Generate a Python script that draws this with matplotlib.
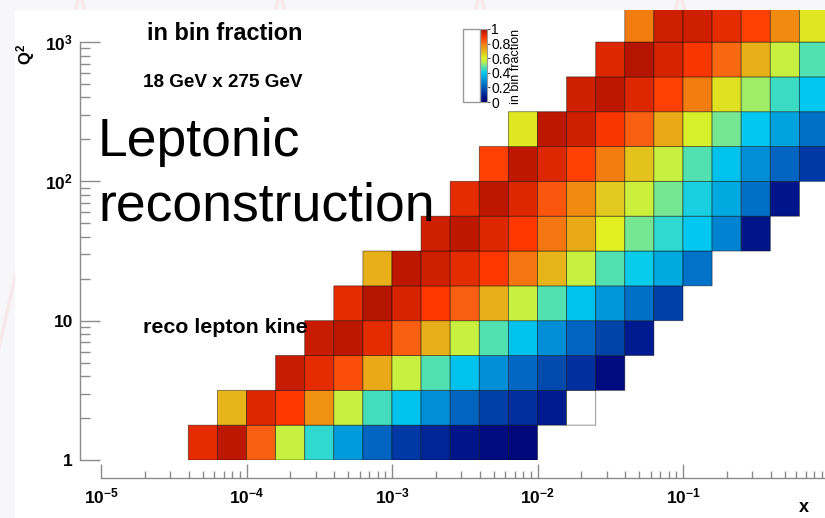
import numpy as np
import matplotlib
matplotlib.use('Agg')
import matplotlib.pyplot as plt
from matplotlib.colors import LinearSegmentedColormap, Normalize
from matplotlib.cm import ScalarMappable
from matplotlib.patches import Rectangle
from matplotlib.lines import Line2D
from matplotlib.ticker import FixedLocator, FixedFormatter, LogLocator, NullFormatter

plt.rcParams['font.family'] = ['Liberation Sans', 'DejaVu Sans']
plt.rcParams['mathtext.fontset'] = 'custom'
plt.rcParams['mathtext.rm'] = 'Liberation Sans:bold'
plt.rcParams['mathtext.it'] = 'Liberation Sans:italic:bold'
plt.rcParams['mathtext.bf'] = 'Liberation Sans:bold'

# binning: 5 bins per decade in x, 4 per decade in Q2
x_edges = np.logspace(-5, 0, 26)
q2_edges = np.logspace(0, 3.25, 14)

# first filled x bin of each Q2 row, and the in-bin fraction of the filled bins
row_first_bin = [3, 4, 6, 7, 8, 9, 11, 12, 13, 14, 16, 17, 18]
frac_q2_rows = [
    [0.92, 0.97, 0.83, 0.56, 0.44, 0.32, 0.22, 0.14, 0.10, 0.07, 0.05, 0.03],
    [0.70, 0.93, 0.88, 0.76, 0.56, 0.46, 0.39, 0.30, 0.22, 0.15, 0.12, 0.08, 0.0],
    [0.96, 0.92, 0.85, 0.72, 0.56, 0.47, 0.39, 0.30, 0.23, 0.17, 0.12, 0.05],
    [0.96, 0.97, 0.92, 0.83, 0.71, 0.56, 0.47, 0.39, 0.30, 0.22, 0.16, 0.08],
    [0.92, 0.98, 0.94, 0.88, 0.83, 0.71, 0.56, 0.47, 0.39, 0.31, 0.24, 0.15],
    [0.71, 0.97, 0.95, 0.92, 0.88, 0.80, 0.70, 0.56, 0.47, 0.41, 0.34, 0.25],
    [0.95, 0.97, 0.93, 0.88, 0.80, 0.72, 0.62, 0.50, 0.44, 0.40, 0.28, 0.07],
    [0.92, 0.97, 0.93, 0.84, 0.77, 0.67, 0.57, 0.50, 0.42, 0.34, 0.24, 0.07],
    [0.87, 0.97, 0.93, 0.87, 0.79, 0.68, 0.56, 0.47, 0.39, 0.30, 0.22, 0.14],
    [0.63, 0.97, 0.95, 0.89, 0.83, 0.72, 0.60, 0.50, 0.40, 0.33, 0.24],
    [0.95, 0.97, 0.93, 0.87, 0.79, 0.64, 0.53, 0.45, 0.40],
    [0.93, 0.98, 0.94, 0.89, 0.82, 0.71, 0.56, 0.47],
    [0.79, 0.95, 0.95, 0.92, 0.87, 0.77, 0.63],
]

x_ticks = [1e-5, 1e-4, 1e-3, 1e-2, 1e-1, 1]
x_ticklabels = ['10$^{-5}$', '10$^{-4}$', '10$^{-3}$', '10$^{-2}$', '10$^{-1}$', '']
y_ticks = [1, 10, 100, 1000]
y_ticklabels = ['1', '10', '10$^{2}$', '10$^{3}$']
cbar_ticks = [0, 0.2, 0.4, 0.6, 0.8, 1]
cbar_ticklabels = ['0', '0.2', '0.4', '0.6', '0.8', '1']

Z = np.full((len(q2_edges) - 1, len(x_edges) - 1), np.nan)
for j, (i0, vals) in enumerate(zip(row_first_bin, frac_q2_rows)):
    Z[j, i0:i0 + len(vals)] = vals

palette = [(0.00, '#000070'), (0.05, '#000c80'), (0.08, '#001c90'), (0.12, '#0030a0'),
           (0.15, '#0040a8'), (0.22, '#0064c0'), (0.30, '#0090d8'), (0.34, '#00a8e0'),
           (0.40, '#00c8f0'), (0.44, '#30d8d0'), (0.47, '#50e0b0'), (0.50, '#78e890'),
           (0.56, '#c8f040'), (0.62, '#e0f020'), (0.66, '#e0d020'), (0.71, '#e8b018'),
           (0.77, '#f08c10'), (0.83, '#f86010'), (0.88, '#ff3800'), (0.93, '#e02800'),
           (0.97, '#c01800'), (1.00, '#a01000')]
cmap = LinearSegmentedColormap.from_list('rootish', palette)
cmap.set_under('white')

W, H = 825, 518
fig = plt.figure(figsize=(8.25, 5.18), dpi=100)
fig.patch.set_facecolor('#f7f7f9')

def fx(px):
    return px / W

def fy(py):
    return 1 - py / H

# faint slide background pattern
for x0 in [-40, 160, 360, 560, 760]:
    fig.add_artist(Line2D([fx(x0), fx(x0 + 120)], [fy(520), fy(-10)], color='#f7e8ea',
                          lw=2.5, zorder=-3))
    fig.add_artist(Line2D([fx(x0 + 120), fx(x0 + 240)], [fy(-10), fy(520)], color='#f7e8ea',
                          lw=2.5, zorder=-3))
fig.add_artist(Rectangle((fx(15), 0), 1, fy(10), transform=fig.transFigure,
                         facecolor='white', edgecolor='none', zorder=-2))

ax = fig.add_axes([fx(101), fy(460), fx(828.5) - fx(101), fy(10) - fy(460)])
ax.patch.set_alpha(0)
ax.set_xscale('log')
ax.set_yscale('log')
ax.pcolor(x_edges, q2_edges, np.ma.masked_invalid(Z), cmap=cmap,
          norm=Normalize(vmin=1e-4, vmax=1), edgecolors=(0, 0, 0, 0.5), linewidth=0.6)
ax.set_xlim(1e-5, 1)
ax.set_ylim(1, 10 ** 3.23)

for s in ['top', 'right']:
    ax.spines[s].set_visible(False)
ax.spines['left'].set_position(('outward', 21 * 0.72))
ax.spines['bottom'].set_position(('outward', 18 * 0.72))
ax.spines['left'].set_bounds(1, 1000)
for s in ['left', 'bottom']:
    ax.spines[s].set_color('#8c8c8c')
    ax.spines[s].set_linewidth(1.0)

ax.xaxis.set_major_locator(FixedLocator(x_ticks))
ax.xaxis.set_major_formatter(FixedFormatter(x_ticklabels))
ax.xaxis.set_minor_locator(LogLocator(base=10, subs=np.arange(2, 10)))
ax.xaxis.set_minor_formatter(NullFormatter())
ax.yaxis.set_major_locator(FixedLocator(y_ticks))
ax.yaxis.set_major_formatter(FixedFormatter(y_ticklabels))
ax.yaxis.set_minor_locator(LogLocator(base=10, subs=np.arange(2, 10)))
ax.yaxis.set_minor_formatter(NullFormatter())

ax.tick_params(axis='both', which='both', direction='in', color='#8c8c8c', width=1.0)
ax.tick_params(axis='x', which='major', length=10, pad=6, labelsize=12.5)
ax.tick_params(axis='x', which='minor', length=5.4)
ax.tick_params(axis='y', which='major', length=14.4, pad=5, labelsize=12.5)
ax.tick_params(axis='y', which='minor', length=7.2)
for lab in ax.get_xticklabels() + ax.get_yticklabels():
    lab.set_fontweight('bold')

# colour scale
fig.add_artist(Rectangle((fx(463), fy(102)), fx(480) - fx(463), fy(29) - fy(102),
                         transform=fig.transFigure, facecolor='white', edgecolor='#9a9a9a',
                         lw=1, zorder=2))
cax = fig.add_axes([fx(480), fy(102), fx(487) - fx(480), fy(29) - fy(102)])
cb = fig.colorbar(ScalarMappable(norm=Normalize(0, 1), cmap=cmap), cax=cax)
cb.set_ticks(cbar_ticks)
cb.set_ticklabels(cbar_ticklabels)
cb.outline.set_edgecolor('#9a9a9a')
cax.tick_params(length=2, pad=1, labelsize=10, color='#555555')
fig.text(fx(516), fy(66), 'in bin fraction', rotation=90, ha='center', va='center',
         fontsize=9)

# labels and annotations
fig.text(fx(26), fy(54), 'Q$^{2}$', rotation=90, ha='center', va='center', fontsize=12,
         fontweight='bold')
fig.text(fx(804), fy(508), 'x', ha='center', va='center', fontsize=13, fontweight='bold')
fig.text(fx(224.5), fy(39.5), 'in bin fraction', ha='center', va='baseline', fontsize=16.9,
         fontweight='bold')
fig.text(fx(223), fy(86.7), '18 GeV x 275 GeV', ha='center', va='baseline', fontsize=13.6,
         fontweight='bold')
fig.text(fx(143), fy(333), 'reco lepton kine', ha='left', va='baseline', fontsize=15.4,
         fontweight='bold', zorder=5)
fig.text(fx(98), fy(156), 'Leptonic', ha='left', va='baseline', fontsize=38.5, zorder=5)
fig.text(fx(98), fy(221), 'reconstruction', ha='left', va='baseline', fontsize=38.5, zorder=5)

fig.savefig('out.png', dpi=100, facecolor=fig.get_facecolor())
